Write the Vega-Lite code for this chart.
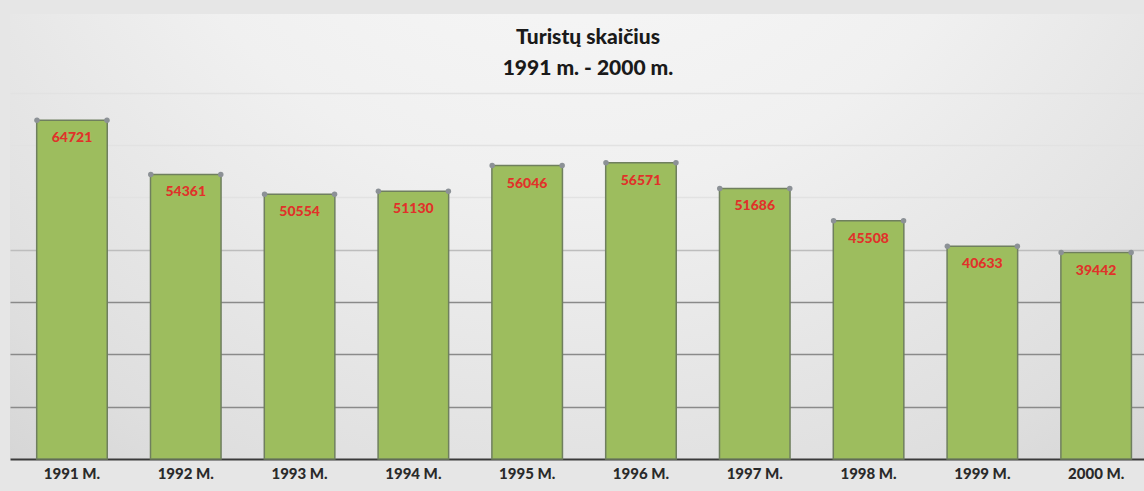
{
  "$schema": "https://vega.github.io/schema/vega-lite/v6.json",
  "autosize": {"type": "none"},
  "padding": {"left": 10, "top": 14, "right": 0, "bottom": 32},
  "width": 1134,
  "height": 445,
  "background": "#e6e6e6",
  "title": {
    "text": ["Turistų skaičius", "1991 m. - 2000 m."],
    "anchor": "middle",
    "orient": "top",
    "offset": -65,
    "dx": 11,
    "font": "Lato",
    "fontSize": 21,
    "fontWeight": 900,
    "color": "#1a1a1a",
    "lineHeight": 31
  },
  "config": {
    "view": {
      "stroke": null,
      "fill": {
        "gradient": "radial",
        "x1": 0.5, "y1": 0.05, "r1": 0,
        "x2": 0.5, "y2": 0.05, "r2": 0.9,
        "stops": [
          {"offset": 0, "color": "#fbfbfb"},
          {"offset": 0.45, "color": "#f0f0f0"},
          {"offset": 0.8, "color": "#dedede"},
          {"offset": 1, "color": "#cfcfcf"}
        ]
      }
    }
  },
  "data": {
    "values": [
      {"year": "1991 M.", "value": 64721},
      {"year": "1992 M.", "value": 54361},
      {"year": "1993 M.", "value": 50554},
      {"year": "1994 M.", "value": 51130},
      {"year": "1995 M.", "value": 56046},
      {"year": "1996 M.", "value": 56571},
      {"year": "1997 M.", "value": 51686},
      {"year": "1998 M.", "value": 45508},
      {"year": "1999 M.", "value": 40633},
      {"year": "2000 M.", "value": 39442}
    ]
  },
  "encoding": {
    "x": {
      "field": "year",
      "type": "nominal",
      "sort": null,
      "scale": {"paddingInner": 0.38, "paddingOuter": 0.1725, "align": 0.68},
      "axis": {
        "title": null,
        "labelAngle": 0,
        "labelFont": "Lato",
        "labelFontSize": 15,
        "labelFontWeight": 900,
        "labelColor": "#2a2a2a",
        "labelPadding": 7,
        "ticks": false,
        "domainColor": "#3a3a3a",
        "domainWidth": 2
      }
    },
    "y": {
      "field": "value",
      "type": "quantitative",
      "scale": {"domain": [0, 85000], "nice": false},
      "axis": {
        "title": null,
        "labels": false,
        "ticks": false,
        "domain": false,
        "values": [10000, 20000, 30000, 40000, 50000, 60000, 70000],
        "gridColor": {
          "condition": [
            {"test": "datum.value <= 30000", "value": "#8a8a8a"},
            {"test": "datum.value <= 40000", "value": "#bdbdbd"}
          ],
          "value": "#e2e2e2"
        },
        "gridWidth": 1.5
      }
    }
  },
  "layer": [
    {
      "mark": {"type": "bar", "color": "#9dbd5e", "stroke": "#6f7f5e", "strokeWidth": 1.5}
    },
    {
      "mark": {"type": "point", "filled": true, "size": 30, "color": "#8c9196", "opacity": 1, "xOffset": -35}
    },
    {
      "mark": {"type": "point", "filled": true, "size": 30, "color": "#8c9196", "opacity": 1, "xOffset": 35}
    },
    {
      "mark": {"type": "text", "dy": 18, "baseline": "middle", "font": "Lato", "fontSize": 14, "fontWeight": 900, "color": "#e0322a"},
      "encoding": {"text": {"field": "value", "type": "quantitative", "format": "d"}}
    }
  ]
}
